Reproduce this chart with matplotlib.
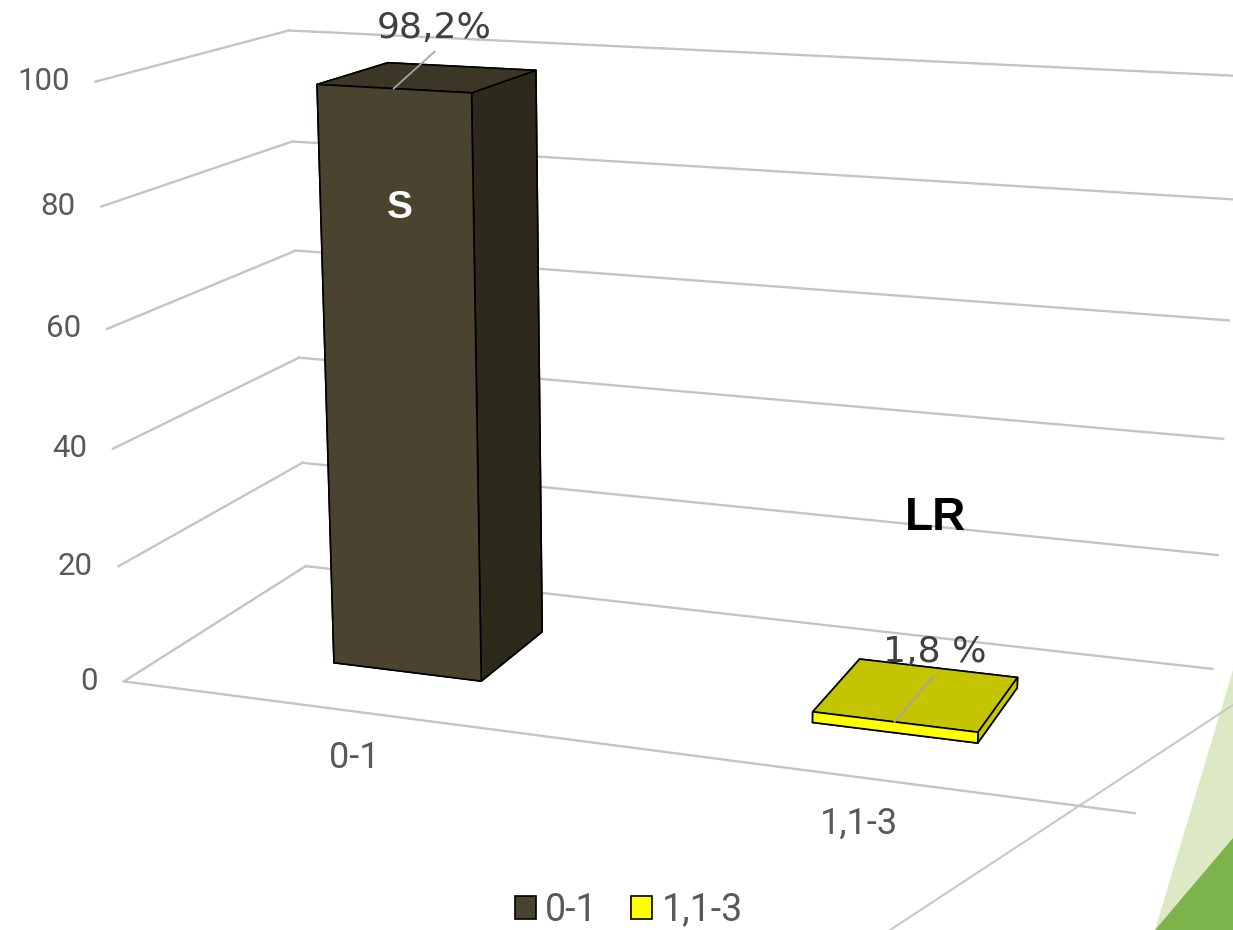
import numpy as np
import matplotlib
matplotlib.use("Agg")
import matplotlib.pyplot as plt
from matplotlib.patches import Patch, Polygon
from matplotlib.lines import Line2D
from mpl_toolkits.mplot3d import proj3d

# data
categories = ["0-1", "1,1-3"]
values = [98.2, 1.8]
value_labels = ["98,2%", "1,8 %"]
ticks = [0, 20, 40, 60, 80, 100]

front_colors = ["#4a4330", "#ffff00"]
top_colors = ["#3b3625", "#c4c400"]
side_colors = ["#2d2a1b", "#c8c800"]
text_grey = "#595959"

plt.rcParams["font.family"] = ["Roboto", "DejaVu Sans"]

W, H = 1233, 930
fig = plt.figure(figsize=(W / 100, H / 100), dpi=100)
ax = fig.add_axes([0.02933, -0.09655, 1.00336, 1.33026], projection="3d")
ax.set_proj_type("persp", focal_length=0.4434)
ax.view_init(elev=14.1, azim=-70.3, roll=0)
ax.set_box_aspect((1.689, 0.670, 1.0))
ax.set_xlim(0, len(categories))
ax.set_ylim(0, 1)
ax.set_zlim(0, 100)
ax.set_axis_off()
ax.patch.set_visible(False)
ax.computed_zorder = False

xmax = len(categories)
grid_kw = dict(color="#c4c4c4", lw=1.7, zorder=1)

# gridlines on the side wall and back wall, plus the floor front edge
for t in ticks:
    ax.plot([0, 0], [0, 1], [t, t], **grid_kw)
    ax.plot([0, xmax], [1, 1], [t, t], **grid_kw)
ax.plot([0, xmax], [0, 0], [0, 0], **grid_kw)

# bars
xc = np.arange(len(categories)) + 0.5
bw = 0.32
y0, depth = 0.3, 0.4
face_colors = []
for i in range(len(categories)):
    # bar3d face order: -z, +z, -y, +y, -x, +x
    face_colors += [front_colors[i], top_colors[i], front_colors[i],
                    side_colors[i], side_colors[i], side_colors[i]]
ax.bar3d(xc - bw / 2, [y0] * len(xc), [0] * len(xc), bw, depth, values,
         color=face_colors, shade=False, edgecolor="black", linewidth=1.2, zorder=2)

# 2D positions of the label anchors
M = ax.get_proj()


def to2d(x, y, z):
    px, py, _ = proj3d.proj_transform(np.atleast_1d(x), np.atleast_1d(y), np.atleast_1d(z), M)
    return px, py


# value axis labels
tx, ty = to2d(np.zeros(len(ticks)), np.zeros(len(ticks)), np.array(ticks, float))
for t, a, b in zip(ticks, tx, ty):
    ax.annotate(str(t), xy=(a, b), xytext=(-26, 0), textcoords="offset pixels",
                ha="right", va="center", fontsize=22.5, color=text_grey)

# category labels under the front edge
cx, cy = to2d(xc, np.zeros(len(xc)), np.zeros(len(xc)))
for c, a, b in zip(categories, cx, cy):
    ax.annotate(c, xy=(a, b), xytext=(0, -47), textcoords="offset pixels",
                ha="center", va="center", fontsize=26, color=text_grey)

# value labels with leader lines from the top front edge
px, py = to2d(xc, np.full(len(xc), y0), np.array(values))
lead_off = [(41, 37), (40, 47)]
text_off = [(41, 51), (40, 60)]
for i in range(len(categories)):
    ax.annotate("", xy=(px[i], py[i]), xytext=lead_off[i], textcoords="offset pixels",
                arrowprops=dict(arrowstyle="-", color="#a6a6a6", lw=1.3, shrinkA=0, shrinkB=0),
                zorder=4)
    ax.annotate(value_labels[i], xy=(px[i], py[i]), xytext=text_off[i], textcoords="offset pixels",
                ha="center", va="baseline", fontsize=26, color="#404040", zorder=5,
                family="DejaVu Sans")

fig.text(400 / W, 1 - 208 / H, "S", ha="center", va="center", fontsize=28, fontweight="bold",
         color="white", family="Liberation Sans")
fig.text(935 / W, 1 - 518 / H, "LR", ha="center", va="center", fontsize=33, fontweight="bold",
         color="black", family="Liberation Sans")

# legend
handles = [Patch(facecolor=front_colors[i], edgecolor="black", linewidth=1.2) for i in range(len(categories))]
fig.legend(handles, categories, loc="center", bbox_to_anchor=(0.51, 1 - 910 / H), ncol=2,
           frameon=False, fontsize=27, labelcolor=text_grey, handlelength=0.55, handleheight=0.55,
           handletextpad=0.25, columnspacing=0.9)

# slide decoration in the lower right corner
fig.add_artist(Polygon([(1233 / W, 1 - 670 / H), (1155 / W, 0), (1, 0)], closed=True,
                       transform=fig.transFigure, facecolor="#dde9c4", edgecolor="none", zorder=-2))
fig.add_artist(Line2D([890 / W, 1], [0, 1 - 705 / H], transform=fig.transFigure,
                      color="#c8c8c8", lw=1.5, zorder=-1.5))
fig.add_artist(Polygon([(1, 1 - 838 / H), (1155 / W, 0), (1, 0)], closed=True,
                       transform=fig.transFigure, facecolor="#7cb34b", edgecolor="none", zorder=-1))

fig.savefig("out.png")
